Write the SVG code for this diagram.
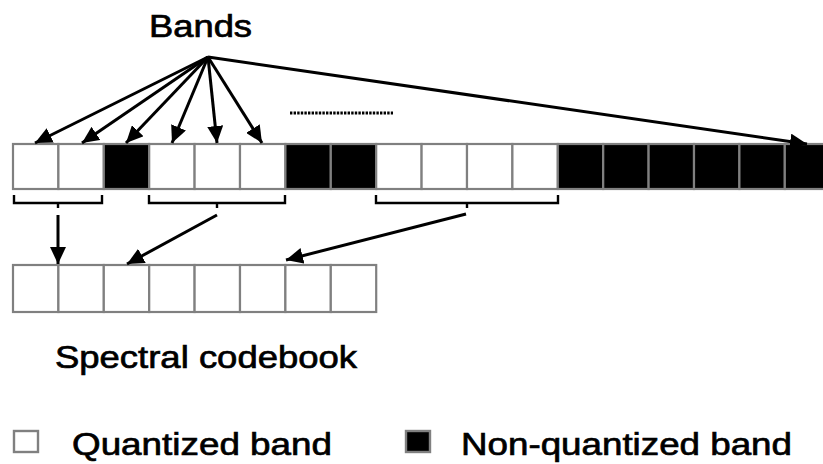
<svg xmlns="http://www.w3.org/2000/svg" width="823" height="464" viewBox="0 0 823 464">
<style>
.w{fill:#fff;stroke:#808080;stroke-width:2.2}
.b{fill:#000;stroke:#808080;stroke-width:2.2}
.t{font-family:"Liberation Sans",Arial,sans-serif;fill:#000;stroke:#000;stroke-width:0.7}
.a{stroke:#000;stroke-width:3;fill:none;marker-end:url(#ah)}
.br{stroke:#000;stroke-width:2.4;fill:none}
</style>
<defs>
<marker id="ah" markerUnits="userSpaceOnUse" markerWidth="18" markerHeight="16" refX="17" refY="8" orient="auto">
<path d="M0,0 L17,8 L0,16 Z" fill="#000"/>
</marker>
</defs>
<text id="bands-label" class="t" x="149" y="37" font-size="31" textLength="103" lengthAdjust="spacingAndGlyphs">Bands</text>
<g id="top-row">
<rect class="w" x="13" y="144" width="45.4" height="45"/>
<rect class="w" x="58.4" y="144" width="45.4" height="45"/>
<rect class="b" x="103.8" y="144" width="45.4" height="45"/>
<rect class="w" x="149.2" y="144" width="45.4" height="45"/>
<rect class="w" x="194.6" y="144" width="45.4" height="45"/>
<rect class="w" x="240" y="144" width="45.4" height="45"/>
<rect class="b" x="285.4" y="144" width="45.4" height="45"/>
<rect class="b" x="330.8" y="144" width="45.4" height="45"/>
<rect class="w" x="376.2" y="144" width="45.4" height="45"/>
<rect class="w" x="421.6" y="144" width="45.4" height="45"/>
<rect class="w" x="467" y="144" width="45.4" height="45"/>
<rect class="w" x="512.4" y="144" width="45.4" height="45"/>
<rect class="b" x="557.8" y="144" width="45.4" height="45"/>
<rect class="b" x="603.2" y="144" width="45.4" height="45"/>
<rect class="b" x="648.6" y="144" width="45.4" height="45"/>
<rect class="b" x="694" y="144" width="45.4" height="45"/>
<rect class="b" x="739.4" y="144" width="45.4" height="45"/>
<rect class="b" x="784.8" y="144" width="45.4" height="45"/>
</g>
<g id="codebook-row">
<rect class="w" x="13" y="265" width="45.4" height="47"/>
<rect class="w" x="58.4" y="265" width="45.4" height="47"/>
<rect class="w" x="103.8" y="265" width="45.4" height="47"/>
<rect class="w" x="149.2" y="265" width="45.4" height="47"/>
<rect class="w" x="194.6" y="265" width="45.4" height="47"/>
<rect class="w" x="240" y="265" width="45.4" height="47"/>
<rect class="w" x="285.4" y="265" width="45.4" height="47"/>
<rect class="w" x="330.8" y="265" width="45.4" height="47"/>
</g>
<g id="brackets">
<path class="br" d="M14,195 V203 H102 V195 M58,203 V208"/>
<path class="br" d="M149,195 V203 H285 V195 M217,203 V208"/>
<path class="br" d="M376,195 V203 H558 V195 M467,203 V208"/>
</g>
<g id="connectors">
<line class="a" x1="208" y1="57" x2="35" y2="143"/>
<line class="a" x1="208" y1="57" x2="82" y2="143"/>
<line class="a" x1="208" y1="57" x2="126" y2="143"/>
<line class="a" x1="208" y1="57" x2="172" y2="143"/>
<line class="a" x1="208" y1="57" x2="217" y2="143"/>
<line class="a" x1="208" y1="57" x2="262" y2="143"/>
<line class="a" x1="208" y1="57" x2="807" y2="144"/>
<line class="a" x1="58" y1="215" x2="58" y2="264"/>
<line class="a" x1="217" y1="215" x2="127" y2="264"/>
<line class="a" x1="466" y1="214" x2="286" y2="260"/>
</g>
<line id="ellipsis" x1="290" y1="113" x2="393" y2="113" stroke="#000" stroke-width="3" stroke-dasharray="2.4 1.2"/>
<text id="codebook-label" class="t" x="55" y="368" font-size="32" textLength="302" lengthAdjust="spacingAndGlyphs">Spectral codebook</text>
<g id="legend">
<rect x="14" y="431" width="24" height="21" fill="#fff" stroke="#808080" stroke-width="2.4"/>
<text class="t" x="72" y="455" font-size="32" textLength="260" lengthAdjust="spacingAndGlyphs">Quantized band</text>
<rect x="406" y="431" width="24" height="21" fill="#000" stroke="#808080" stroke-width="2.4"/>
<text class="t" x="461" y="455" font-size="32" textLength="331" lengthAdjust="spacingAndGlyphs">Non-quantized band</text>
</g>
</svg>
